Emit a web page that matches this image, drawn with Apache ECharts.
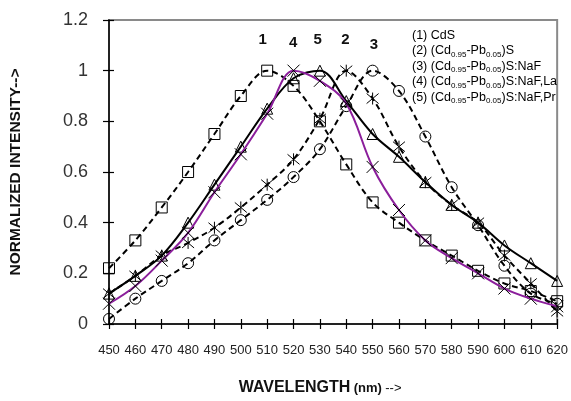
<!DOCTYPE html>
<html>
<head>
<meta charset="utf-8">
<script src="https://cdn.jsdelivr.net/npm/echarts@6/dist/echarts.min.js"></script>
<style>
  html, body { margin: 0; padding: 0; background: #fff; }
  #chart { width: 571px; height: 401px; }
</style>
</head>
<body>
<div id="chart"></div>
<script>
// Normalized photoluminescence spectra, wavelength in nm
const wavelengths = [450, 460, 470, 480, 490, 500, 510, 520, 530, 540, 550, 560, 570, 580, 590, 600, 610, 620];

const cds       = [0.22, 0.33, 0.46, 0.60, 0.75, 0.90, 1.00, 0.94, 0.80, 0.63, 0.48, 0.40, 0.33, 0.27, 0.21, 0.16, 0.13, 0.09];
const cdPb      = [0.12, 0.19, 0.27, 0.32, 0.38, 0.46, 0.55, 0.65, 0.81, 1.00, 0.89, 0.70, 0.56, 0.47, 0.40, 0.27, 0.16, 0.05];
const cdPbNaF   = [0.02, 0.10, 0.17, 0.24, 0.33, 0.41, 0.49, 0.58, 0.69, 0.86, 1.00, 0.92, 0.74, 0.54, 0.39, 0.23, 0.12, 0.08];
const cdPbNaFLa = [0.08, 0.15, 0.25, 0.36, 0.52, 0.67, 0.83, 1.00, 0.96, 0.87, 0.62, 0.45, 0.33, 0.26, 0.20, 0.14, 0.10, 0.07];
const cdPbNaFPr = [0.12, 0.19, 0.27, 0.40, 0.55, 0.70, 0.85, 0.97, 1.00, 0.88, 0.75, 0.66, 0.56, 0.47, 0.40, 0.31, 0.24, 0.17];

const seriesNames = ['(1) CdS', '(2) (Cd0.95-Pb0.05)S', '(3) (Cd0.95-Pb0.05)S:NaF',
                     '(4) (Cd0.95-Pb0.05)S:NaF,La', '(5) (Cd0.95-Pb0.05)S:NaF,Pr'];
const peakTags = ['1', '2', '3', '4', '5'];

const yTicks = { min: 0, max: 1.2, step: 0.2 };
const xTicks = { min: 450, max: 620, step: 10 };

const FONT = '"Liberation Sans", Arial, sans-serif';
const pairs = arr => wavelengths.map((w, i) => [w, arr[i]]);

const crossPath = 'path://M0,0L10,10M10,0L0,10';
const starPath = 'path://M0,0L10,10M10,0L0,10M5,-1L5,11';

function peakTag(text, x, y) {
  return {
    symbol: 'circle',
    symbolSize: 0,
    silent: true,
    label: { show: true, position: 'inside', formatter: text,
             fontFamily: FONT, fontWeight: 'bold', fontSize: 15, color: '#111' },
    data: [{ coord: [x, y] }]
  };
}

function makeSeries(name, data, opts) {
  return {
    name: name,
    type: 'line',
    data: pairs(data),
    smooth: 0.35,
    showAllSymbol: true,
    symbol: opts.symbol,
    symbolSize: opts.symbolSize,
    itemStyle: { color: 'rgba(0,0,0,0)', borderColor: '#000', borderWidth: 1 },
    lineStyle: { color: opts.lineColor, width: opts.lineWidth, type: opts.lineType },
    emphasis: { disabled: true },
    markPoint: opts.tag,
    z: opts.z || 2
  };
}

// a second, label-less axis on each side carries the inward half of the crossing ticks
function innerTickAxis(range, pos) {
  return {
    type: 'value', min: range.min, max: range.max, interval: range.step,
    position: pos,
    axisLine: { show: true, onZero: false, lineStyle: { color: 'rgba(0,0,0,0)', width: 0 } },
    axisTick: { show: true, inside: true, length: 5, lineStyle: { color: '#000', width: 1.2 } },
    axisLabel: { show: false }, splitLine: { show: false }
  };
}

const chart = echarts.init(document.getElementById('chart'), null, { renderer: 'canvas' });

const legendText = [
  '{m|(1) CdS}',
  '{m|(2) (Cd}{s|0.95}{m|-Pb}{s|0.05}{m|)S}',
  '{m|(3) (Cd}{s|0.95}{m|-Pb}{s|0.05}{m|)S:NaF}',
  '{m|(4) (Cd}{s|0.95}{m|-Pb}{s|0.05}{m|)S:NaF,La}',
  '{m|(5) (Cd}{s|0.95}{m|-Pb}{s|0.05}{m|)S:NaF,Pr}'
].join('\n');

chart.setOption({
  animation: false,
  backgroundColor: '#fff',
  textStyle: { fontFamily: FONT },
  grid: {
    left: 106, right: 10, top: 20, bottom: 70,
    show: true, borderColor: '#8a8a8a', borderWidth: 2, backgroundColor: 'transparent'
  },
  xAxis: [{
    type: 'value', min: xTicks.min, max: xTicks.max, interval: xTicks.step,
    axisLine: { show: true, onZero: false, lineStyle: { color: '#000', width: 1.5 } },
    axisTick: { show: true, length: 5, lineStyle: { color: '#000', width: 1.2 } },
    splitLine: { show: false },
    axisLabel: { fontFamily: FONT, fontSize: 13, color: '#222', margin: 20 },
    name: '{b|WAVELENGTH} {n|(nm)} {a|-->}',
    nameLocation: 'middle', nameGap: 56,
    nameTextStyle: {
      padding: [0, 26, 0, 0],
      rich: {
        b: { fontFamily: FONT, fontWeight: 'bold', fontSize: 16, color: '#111' },
        n: { fontFamily: FONT, fontWeight: 'bold', fontSize: 13, color: '#111' },
        a: { fontFamily: FONT, fontSize: 13, color: '#111' }
      }
    }
  }, innerTickAxis(xTicks, 'bottom')],
  yAxis: [{
    type: 'value', min: yTicks.min, max: yTicks.max, interval: yTicks.step,
    axisLine: { show: true, onZero: false, lineStyle: { color: '#000', width: 1.5 } },
    axisTick: { show: true, length: 6, lineStyle: { color: '#000', width: 1.2 } },
    splitLine: { show: false },
    axisLabel: { fontFamily: FONT, fontSize: 18, color: '#333', margin: 21 },
    name: 'NORMALIZED INTENSITY-->',
    nameLocation: 'middle', nameGap: 85, nameRotate: 90,
    nameTextStyle: { fontFamily: FONT, fontWeight: 'bold', fontSize: 15.5, color: '#111' }
  }, innerTickAxis(yTicks, 'left')],
  graphic: [{
    type: 'text',
    left: 412, top: 29,
    silent: true,
    style: {
      text: legendText,
      rich: {
        m: { fontFamily: FONT, fontSize: 12.5, color: '#111', lineHeight: 15.5 },
        s: { fontFamily: FONT, fontSize: 8, color: '#111', lineHeight: 9, verticalAlign: 'bottom' }
      }
    }
  }],
  series: [
    makeSeries(seriesNames[0], cds, {
      symbol: 'rect', symbolSize: 11, lineColor: '#000', lineWidth: 2, lineType: [6, 4],
      tag: peakTag(peakTags[0], 508.3, 1.12)
    }),
    makeSeries(seriesNames[1], cdPb, {
      symbol: starPath, symbolSize: 12, lineColor: '#000', lineWidth: 2, lineType: [6, 4],
      tag: peakTag(peakTags[1], 539.7, 1.123)
    }),
    makeSeries(seriesNames[2], cdPbNaF, {
      symbol: 'circle', symbolSize: 11, lineColor: '#000', lineWidth: 2, lineType: [6, 4],
      tag: peakTag(peakTags[2], 550.5, 1.1)
    }),
    makeSeries(seriesNames[3], cdPbNaFLa, {
      symbol: crossPath, symbolSize: 12, lineColor: '#8b1e9b', lineWidth: 2, lineType: 'solid',
      tag: peakTag(peakTags[3], 519.9, 1.108), z: 3
    }),
    makeSeries(seriesNames[4], cdPbNaFPr, {
      symbol: 'triangle', symbolSize: 11, lineColor: '#000', lineWidth: 2, lineType: 'solid',
      tag: peakTag(peakTags[4], 529.2, 1.12)
    })
  ]
});
</script>
</body>
</html>
